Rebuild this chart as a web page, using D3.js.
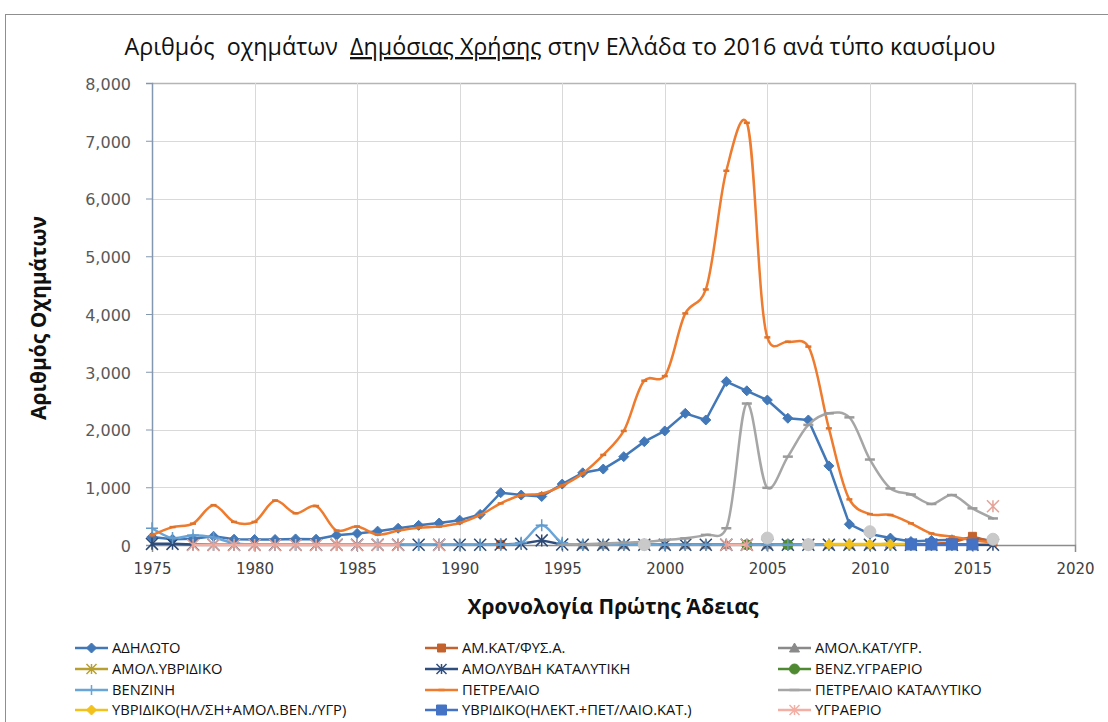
<!DOCTYPE html>
<html><head><meta charset="utf-8">
<script src="https://cdn.jsdelivr.net/npm/d3@7"></script>
<style>
html,body{margin:0;padding:0;background:#fff;}
svg{display:block;}
text{font-family:"Open Sans","Noto Sans",sans-serif;}
</style></head>
<body>
<svg id="c" width="1108" height="722"></svg>
<script>
// ---------- DATA ----------
const years = [1975,1976,1977,1978,1979,1980,1981,1982,1983,1984,1985,1986,1987,1988,1989,1990,1991,1992,1993,1994,1995,1996,1997,1998,1999,2000,2001,2002,2003,2004,2005,2006,2007,2008,2009,2010,2011,2012,2013,2014,2015,2016];
const xTicks = [1975,1980,1985,1990,1995,2000,2005,2010,2015,2020];
const yTicks = [0,1000,2000,3000,4000,5000,6000,7000,8000];
const seriesNames = ["ΑΔΗΛΩΤΟ","ΑΜ.ΚΑΤ/ΦΥΣ.Α.","ΑΜΟΛ.ΚΑΤ/ΥΓΡ.","ΑΜΟΛ.ΥΒΡΙΔΙΚΟ","ΑΜΟΛΥΒΔΗ ΚΑΤΑΛΥΤΙΚΗ","ΒΕΝΖ.ΥΓΡΑΕΡΙΟ","ΒΕΝΖΙΝΗ","ΠΕΤΡΕΛΑΙΟ","ΠΕΤΡΕΛΑΙΟ ΚΑΤΑΛΥΤΙΚΟ","ΥΒΡΙΔΙΚΟ(ΗΛ/ΣΗ+ΑΜΟΛ.ΒΕΝ./ΥΓΡ)","ΥΒΡΙΔΙΚΟ(ΗΛΕΚΤ.+ΠΕΤ/ΛΑΙΟ.ΚΑΤ.)","ΥΓΡΑΕΡΙΟ"];
const _ = null;
const adilwto = [140,100,110,150,100,95,95,105,100,170,200,240,290,340,380,430,530,905,865,840,1055,1250,1315,1530,1790,1975,2280,2165,2830,2670,2510,2195,2165,1370,360,190,120,60,80,90,120,70];
const amKatFys = [_,_,_,_,_,_,_,_,_,_,_,_,_,_,_,_,_,10,_,_,_,_,_,_,_,_,_,_,_,_,_,_,_,_,_,_,_,_,20,40,150,50];
const amolKatYgr = [_,_,_,_,_,_,_,_,_,_,_,_,_,_,_,_,_,_,_,_,_,5,5,5,5,5,5,5,5,5,5,5,5,5,5,5,20,_,_,_,_,_];
const amolYvridiko = [_,_,_,_,_,_,_,_,_,_,_,_,_,_,_,_,_,_,_,_,_,_,_,_,_,_,_,_,_,5,_,_,_,5,5,5,5,_,_,_,_,_];
const amolyvdiKat = [20,20,10,5,5,5,5,5,5,5,5,5,5,5,5,5,5,10,20,80,10,5,5,5,5,5,5,5,5,5,5,5,5,5,5,5,5,5,5,5,5,5];
const venzYgraerio = [_,_,_,_,_,_,_,_,_,_,_,_,_,_,_,_,_,_,_,_,_,_,_,_,_,_,_,_,_,5,_,5,_,_,_,_,_,_,_,_,_,_];
const venzini = [290,120,170,130,30,10,5,5,5,5,5,5,5,5,5,5,5,10,40,340,40,5,5,5,5,5,5,5,5,5,5,5,5,5,5,5,5,_,_,_,_,_];
const petrelaio = [170,310,370,690,400,400,770,550,675,250,320,180,250,300,320,380,520,720,860,890,1030,1240,1560,1975,2845,2925,4010,4425,6480,7310,3595,3520,3435,2020,790,535,520,375,200,145,85,40];
const petrelaioKat = [_,_,_,_,_,_,_,_,_,_,_,_,_,_,_,_,_,_,_,_,5,15,25,40,55,85,115,175,290,2450,990,1530,2080,2280,2210,1480,980,875,710,865,635,460];
const yvridikoHlSh = [_,_,_,_,_,_,_,_,_,_,_,_,_,_,_,_,_,_,_,_,_,_,_,_,_,_,_,_,_,_,_,_,_,15,15,15,15,15,_,_,_,_];
const yvridikoHlekt = [_,_,_,_,_,_,_,_,_,_,_,_,_,_,_,_,_,_,_,_,_,_,_,_,_,_,_,_,_,_,_,_,_,_,_,_,_,10,10,10,10,_];
const ygraerio = [_,_,0,0,0,0,0,0,0,0,0,0,0,_,0,_,_,_,_,_,_,_,_,_,_,_,_,_,5,5,_,_,_,_,_,_,_,_,_,_,_,670];
const unlabeled = [_,_,_,_,_,_,_,_,_,_,_,_,_,_,_,_,_,_,_,_,_,_,_,_,5,_,_,_,_,_,120,_,5,_,_,230,_,_,_,_,_,100];

// ---------- STYLE ----------
const seriesList = [
  {name:seriesNames[0], v:adilwto, color:"#4278B8", marker:"diamond", ms:10, curve:"linear", w:2.5},
  {name:seriesNames[1], v:amKatFys, color:"#C4622D", marker:"square", ms:8, curve:"linear", w:2.5},
  {name:seriesNames[2], v:amolKatYgr, color:"#8A8A8A", marker:"triangle", ms:10, curve:"linear", w:2.5},
  {name:seriesNames[3], v:amolYvridiko, color:"#B8A030", marker:"xstar", ms:10, curve:"linear", w:2.5},
  {name:seriesNames[4], v:amolyvdiKat, color:"#2F4E7E", marker:"asterisk", ms:12, curve:"linear", w:2.5},
  {name:seriesNames[5], v:venzYgraerio, color:"#4F8A33", marker:"circle", ms:10, curve:"linear", w:2.5},
  {name:seriesNames[6], v:venzini, color:"#6AA5D8", marker:"plus", ms:12, curve:"smooth", w:2.5},
  {name:seriesNames[7], v:petrelaio, color:"#EE7B2E", marker:"dash", ms:6, curve:"smooth", w:2.5},
  {name:seriesNames[8], v:petrelaioKat, color:"#A6A6A6", marker:"longdash", ms:10, curve:"smooth", w:2.5},
  {name:seriesNames[9], v:yvridikoHlSh, color:"#F2C11A", marker:"diamond", ms:10, curve:"linear", w:3},
  {name:seriesNames[10], v:yvridikoHlekt, color:"#4472C4", marker:"square", ms:11, curve:"linear", w:3},
  {name:seriesNames[11], v:ygraerio, color:"#F4AFA4", marker:"asterisk", ms:12, curve:"linear", w:2.5},
  {name:null, v:unlabeled, color:"#C9C9C9", marker:"circle", ms:12, curve:"none", w:0}
];

const svg = d3.select("#c");
const x = d3.scaleLinear().domain([1975,2020]).range([152,1075]);
const y = d3.scaleLinear().domain([0,8000]).range([545,83]);
const tickFont = "'DejaVu Sans',Verdana,sans-serif";

// outer frame
svg.append("rect").attr("x",5.5).attr("y",14.5).attr("width",1110).attr("height",720)
  .attr("fill","none").attr("stroke","#8F8F8F").attr("stroke-width",1);

// gridlines
const g = svg.append("g");
g.selectAll(".hg").data(yTicks.filter(d=>d>0)).join("line")
  .attr("x1",x(1975)).attr("x2",x(2020)).attr("y1",d=>Math.round(y(d))+0.5).attr("y2",d=>Math.round(y(d))+0.5)
  .attr("stroke",d=>d===8000?"#B5B5B5":"#D9D9D9").attr("stroke-width",d=>d===8000?1.5:1);
g.selectAll(".vg").data(xTicks.filter(d=>d>1975)).join("line")
  .attr("y1",y(0)).attr("y2",y(8000)).attr("x1",d=>Math.round(x(d))+0.5).attr("x2",d=>Math.round(x(d))+0.5)
  .attr("stroke",d=>d===2020?"#B5B5B5":"#D9D9D9").attr("stroke-width",d=>d===2020?1.5:1);

// axes
const yAxis = svg.append("g").attr("transform",`translate(${x(1975)},0)`)
  .call(d3.axisLeft(y).tickValues(yTicks).tickFormat(d3.format(",")).tickSize(6).tickPadding(15));
yAxis.select(".domain").attr("stroke","#8497B0").attr("stroke-width",1.5);
yAxis.selectAll(".tick line").attr("stroke","#8497B0");
yAxis.selectAll("text").attr("font-size",16).attr("fill","#595959").attr("dy","0.4em")
  .style("font-family",tickFont);

const xAxis = svg.append("g").attr("transform",`translate(0,${y(0)})`)
  .call(d3.axisBottom(x).tickValues(xTicks).tickFormat(d3.format("d")).tickSize(7).tickPadding(11));
xAxis.select(".domain").attr("stroke","#8C8C8C").attr("stroke-width",1.5);
xAxis.selectAll(".tick line").attr("stroke","#8C8C8C");
xAxis.selectAll("text").attr("font-size",15).attr("fill","#404040")
  .style("font-family",tickFont);

// marker path generator
function markerPath(type, s){
  const h=s/2;
  switch(type){
    case "diamond": return `M0,${-h}L${h},0L0,${h}L${-h},0Z`;
    case "square": return `M${-h},${-h}H${h}V${h}H${-h}Z`;
    case "triangle": return `M0,${-h}L${h},${h*0.8}L${-h},${h*0.8}Z`;
    case "circle": return d3.symbol(d3.symbolCircle, Math.PI*h*h)();
    case "plus": return `M${-h},0H${h}M0,${-h}V${h}`;
    case "xstar": return `M${-h},${-h}L${h},${h}M${-h},${h}L${h},${-h}M0,${-h}V${h}`;
    case "asterisk": return `M${-h},${-h}L${h},${h}M${-h},${h}L${h},${-h}M0,${-h}V${h}`;
    case "dash": return `M${-h},0H${h}`;
    case "longdash": return `M${-h},0H${h}`;
  }
}
const filled = {diamond:1,square:1,triangle:1,circle:1};

// lines
const plot = svg.append("g");
seriesList.forEach(s=>{
  const pts = years.map((yr,i)=>({yr, v:s.v[i]}));
  if(s.curve!=="none"){
    const line = d3.line().defined(d=>d.v!==null).x(d=>x(d.yr)).y(d=>y(d.v))
      .curve(s.curve==="smooth"?d3.curveCatmullRom.alpha(0.2):d3.curveLinear);
    plot.append("path").datum(pts).attr("d",line).attr("fill","none")
      .attr("stroke",s.color).attr("stroke-width",s.w).attr("stroke-linejoin","round").attr("stroke-linecap","round");
  }
  const mk = plot.append("g").selectAll("path").data(pts.filter(d=>d.v!==null)).join("path")
    .attr("transform",d=>`translate(${x(d.yr)},${y(d.v)})`)
    .attr("d",markerPath(s.marker,s.ms));
  if(filled[s.marker]) mk.attr("fill",s.color).attr("stroke",s.color).attr("stroke-width",1);
  else mk.attr("fill","none").attr("stroke",d3.color(s.color).darker(0.2)).attr("stroke-width",s.marker==="dash"||s.marker==="longdash"?2.5:1.5);
});

// title
const title = svg.append("text").attr("x",560).attr("y",55).attr("text-anchor","middle")
  .attr("font-size",23.3).attr("fill","#111").style("white-space","pre")
  .style("font-family","'Open Sans',sans-serif");
title.append("tspan").text("Αριθμός  οχημάτων  ");
title.append("tspan").text("Δημόσιας Χρήσης").attr("text-decoration","underline");
title.append("tspan").text(" στην Ελλάδα το 2016 ανά τύπο καυσίμου");

// axis titles
svg.append("text").attr("transform","translate(46,318) rotate(-90)").attr("text-anchor","middle")
  .attr("font-size",21).attr("font-weight","bold").attr("fill","#111")
  .style("font-family","'Open Sans',sans-serif").text("Αριθμός Οχημάτων");
svg.append("text").attr("x",613).attr("y",614).attr("text-anchor","middle")
  .attr("font-size",21).attr("font-weight","bold").attr("fill","#111")
  .style("font-family","'Open Sans',sans-serif").text("Χρονολογία Πρώτης Άδειας");

// legend
const colX = [75,425,778];
const rowY = [648,669,690,710];
const leg = svg.append("g");
seriesList.filter(s=>s.name).forEach((s,i)=>{
  const cx = colX[i%3], cy = rowY[Math.floor(i/3)];
  const gg = leg.append("g").attr("transform",`translate(${cx},${cy})`);
  gg.append("line").attr("x1",0).attr("x2",33).attr("y1",0).attr("y2",0)
    .attr("stroke",s.color).attr("stroke-width",2.5);
  const m = gg.append("path").attr("transform","translate(16.5,0)").attr("d",markerPath(s.marker,Math.min(s.ms,10)));
  if(filled[s.marker]) m.attr("fill",s.color).attr("stroke",s.color);
  else m.attr("fill","none").attr("stroke",s.color).attr("stroke-width",s.marker==="dash"||s.marker==="longdash"?2.5:1.5);
  gg.append("text").attr("x",37).attr("y",0).attr("dy","0.36em").attr("font-size",14.7)
    .attr("fill","#111").style("font-family","'Open Sans',sans-serif")
    .text(s.name);
});
</script>
</body></html>
